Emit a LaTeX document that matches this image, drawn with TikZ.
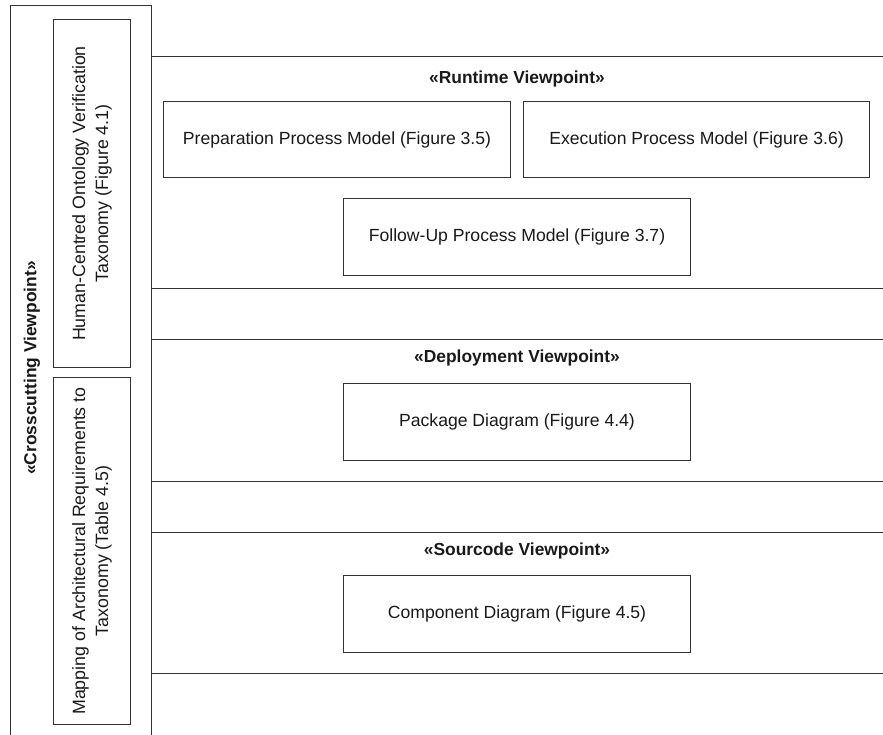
\documentclass[tikz,border=0pt]{standalone}
\usepackage{fontspec}
\setmainfont{Liberation Sans}
\begin{document}
\begin{tikzpicture}[x=1pt,y=-1pt,
  frame/.style={draw=black!80,line width=1pt},
  box/.style={frame,rectangle,inner sep=0pt,align=center,font=\fontsize{17.6}{23}\selectfont,text=black!90},
  title/.style={font=\bfseries\fontsize{17.4}{21}\selectfont,text=black!90},
  vtext/.style={rotate=90,align=center,font=\fontsize{17.8}{23}\selectfont,text=black!90}]
\useasboundingbox (0,0) rectangle (883,735);
\clip (0,0) rectangle (883,735);
% crosscutting outer frame
\draw[frame] (10,745) -- (10,6) -- (151,6) -- (151,745);
\node[rotate=90,title] (cross) at (32,368) {«Crosscutting Viewpoint»};
% inner crosscutting boxes
\node[box,minimum width=77pt,minimum height=348pt,anchor=north west] (hc) at (53,19) {};
\node[vtext] (hctext) at (hc.center) {Human-Centred Ontology Verification\\Taxonomy (Figure 4.1)};
\node[box,minimum width=77pt,minimum height=347pt,anchor=north west] (map) at (53,377) {};
\node[vtext] (maptext) at (map.center) {Mapping of Architectural Requirements to\\Taxonomy (Table 4.5)};
% sections
\draw[frame] (151,57) rectangle (900,288);
\draw[frame] (151,339) rectangle (900,481);
\draw[frame] (151,532) rectangle (900,673);
\node[title] (rt) at (517,79) {«Runtime Viewpoint»};
\node[title] (dp) at (517,358) {«Deployment Viewpoint»};
\node[title] (sc) at (517,551) {«Sourcode Viewpoint»};
% boxes
\node[box,minimum width=347pt,minimum height=76pt,anchor=north west] (prep) at (163,101) {Preparation Process Model (Figure 3.5)};
\node[box,minimum width=346pt,minimum height=76pt,anchor=north west] (exec) at (523,101) {Execution Process Model (Figure 3.6)};
\node[box,minimum width=347pt,minimum height=77pt,anchor=north west] (foll) at (343,198) {Follow-Up Process Model (Figure 3.7)};
\node[box,minimum width=347pt,minimum height=77pt,anchor=north west] (pkg) at (343,383) {Package Diagram (Figure 4.4)};
\node[box,minimum width=347pt,minimum height=77pt,anchor=north west] (comp) at (343,575) {Component Diagram (Figure 4.5)};
\end{tikzpicture}
\end{document}
